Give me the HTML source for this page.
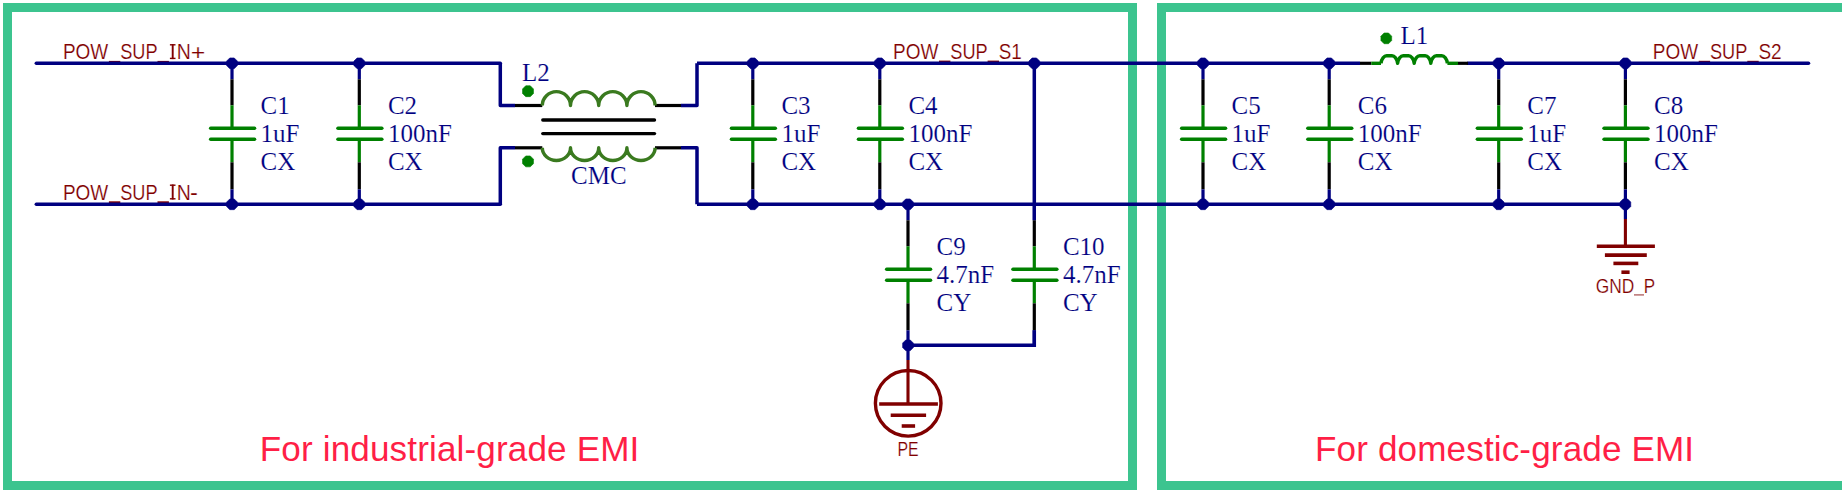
<!DOCTYPE html>
<html><head><meta charset="utf-8"><style>
html,body{margin:0;padding:0;background:#fff;}
svg{display:block;}
</style></head><body>
<svg width="1842" height="492" viewBox="0 0 1842 492">
<rect width="1842" height="492" fill="#fff"/>
<text x="62.98" y="59.10" font-family="Liberation Sans" font-size="22.3" fill="#800000" textLength="45.29" lengthAdjust="spacingAndGlyphs" stroke="#fff" stroke-width="0.2">POW</text>
<rect x="108.90" y="60.90" width="11.40" height="2.70" fill="#800000" opacity="1"/>
<text x="120.18" y="59.10" font-family="Liberation Sans" font-size="22.3" fill="#800000" textLength="37.45" lengthAdjust="spacingAndGlyphs" stroke="#fff" stroke-width="0.2">SUP</text>
<rect x="157.50" y="60.90" width="11.40" height="2.70" fill="#800000" opacity="1"/>
<rect x="171.75" y="44.10" width="1.9" height="15.0" fill="#800000"/>
<rect x="169.90" y="44.10" width="5.6" height="1.4" fill="#800000"/>
<rect x="169.90" y="57.70" width="5.6" height="1.4" fill="#800000"/>
<text x="176.64" y="59.10" font-family="Liberation Sans" font-size="22.3" fill="#800000" textLength="14.06" lengthAdjust="spacingAndGlyphs" stroke="#fff" stroke-width="0.2">N</text>
<text x="190.75" y="59.70" font-family="Liberation Sans" font-size="22.3" fill="#800000" textLength="14.57" lengthAdjust="spacingAndGlyphs" stroke="#fff" stroke-width="0.2">+</text>
<text x="62.98" y="199.50" font-family="Liberation Sans" font-size="22.3" fill="#800000" textLength="45.29" lengthAdjust="spacingAndGlyphs" stroke="#fff" stroke-width="0.2">POW</text>
<rect x="108.90" y="201.30" width="11.40" height="2.70" fill="#800000" opacity="1"/>
<text x="120.18" y="199.50" font-family="Liberation Sans" font-size="22.3" fill="#800000" textLength="37.45" lengthAdjust="spacingAndGlyphs" stroke="#fff" stroke-width="0.2">SUP</text>
<rect x="157.50" y="201.30" width="11.40" height="2.70" fill="#800000" opacity="1"/>
<rect x="171.75" y="184.50" width="1.9" height="15.0" fill="#800000"/>
<rect x="169.90" y="184.50" width="5.6" height="1.4" fill="#800000"/>
<rect x="169.90" y="198.10" width="5.6" height="1.4" fill="#800000"/>
<text x="176.64" y="199.50" font-family="Liberation Sans" font-size="22.3" fill="#800000" textLength="14.06" lengthAdjust="spacingAndGlyphs" stroke="#fff" stroke-width="0.2">N</text>
<text x="190.13" y="199.50" font-family="Liberation Sans" font-size="22.3" fill="#800000" textLength="7.88" lengthAdjust="spacingAndGlyphs" stroke="#fff" stroke-width="0.2">-</text>
<text x="893.08" y="58.80" font-family="Liberation Sans" font-size="22.3" fill="#800000" textLength="45.29" lengthAdjust="spacingAndGlyphs" stroke="#fff" stroke-width="0.2">POW</text>
<rect x="939.00" y="60.60" width="11.40" height="2.70" fill="#800000" opacity="1"/>
<text x="950.28" y="58.80" font-family="Liberation Sans" font-size="22.3" fill="#800000" textLength="37.45" lengthAdjust="spacingAndGlyphs" stroke="#fff" stroke-width="0.2">SUP</text>
<rect x="987.60" y="60.60" width="11.40" height="2.70" fill="#800000" opacity="1"/>
<text x="998.75" y="58.80" font-family="Liberation Sans" font-size="22.3" fill="#800000" textLength="23.05" lengthAdjust="spacingAndGlyphs" stroke="#fff" stroke-width="0.2">S1</text>
<text x="1652.78" y="59.00" font-family="Liberation Sans" font-size="22.3" fill="#800000" textLength="45.29" lengthAdjust="spacingAndGlyphs" stroke="#fff" stroke-width="0.2">POW</text>
<rect x="1698.70" y="60.80" width="11.40" height="2.70" fill="#800000" opacity="1"/>
<text x="1709.98" y="59.00" font-family="Liberation Sans" font-size="22.3" fill="#800000" textLength="37.45" lengthAdjust="spacingAndGlyphs" stroke="#fff" stroke-width="0.2">SUP</text>
<rect x="1747.30" y="60.80" width="11.40" height="2.70" fill="#800000" opacity="1"/>
<text x="1758.44" y="59.00" font-family="Liberation Sans" font-size="22.3" fill="#800000" textLength="23.27" lengthAdjust="spacingAndGlyphs" stroke="#fff" stroke-width="0.2">S2</text>
<text x="1595.83" y="293.00" font-family="Liberation Sans" font-size="19.5" fill="#800000" textLength="38.59" lengthAdjust="spacingAndGlyphs" stroke="#fff" stroke-width="0.2">GND</text>
<rect x="1634.00" y="294.20" width="10.00" height="1.40" fill="#800000" opacity="0.6"/>
<text x="1643.84" y="293.00" font-family="Liberation Sans" font-size="19.5" fill="#800000" textLength="11.35" lengthAdjust="spacingAndGlyphs" stroke="#fff" stroke-width="0.2">P</text>
<text x="897.53" y="455.90" font-family="Liberation Sans" font-size="19.5" fill="#800000" textLength="21.17" lengthAdjust="spacingAndGlyphs" stroke="#fff" stroke-width="0.2">PE</text>
<text x="259.8" y="460.8" font-family="Liberation Sans" font-size="35.1" fill="#ff1f46" textLength="379.5" lengthAdjust="spacing">For industrial-grade EMI</text>
<text x="1315.0" y="460.8" font-family="Liberation Sans" font-size="35.1" fill="#ff1f46" textLength="379.1" lengthAdjust="spacing">For domestic-grade EMI</text>
<rect x="7.5" y="7.5" width="1125" height="478" fill="none" stroke="#3cc48f" stroke-width="9"/>
<rect x="1161.5" y="7.5" width="1675" height="478" fill="none" stroke="#3cc48f" stroke-width="9"/>
<line x1="36.30" y1="63.30" x2="500.30" y2="63.30" stroke="#000080" stroke-width="3.5" stroke-linecap="round"/>
<line x1="36.30" y1="204.30" x2="500.30" y2="204.30" stroke="#000080" stroke-width="3.5" stroke-linecap="round"/>
<polyline points="500.3,63.3 500.3,105.5 515,105.5" fill="none" stroke="#000080" stroke-width="3.5" stroke-linejoin="round"/>
<polyline points="500.3,204.3 500.3,147.8 515,147.8" fill="none" stroke="#000080" stroke-width="3.5" stroke-linejoin="round"/>
<polyline points="697,63.3 697,105.5 681,105.5" fill="none" stroke="#000080" stroke-width="3.5" stroke-linejoin="round"/>
<polyline points="697,204.3 697,147.8 681,147.8" fill="none" stroke="#000080" stroke-width="3.5" stroke-linejoin="round"/>
<line x1="515.00" y1="105.50" x2="542.30" y2="105.50" stroke="#000" stroke-width="3.2" stroke-linecap="butt"/>
<line x1="515.00" y1="147.80" x2="542.30" y2="147.80" stroke="#000" stroke-width="3.2" stroke-linecap="butt"/>
<line x1="655.00" y1="105.50" x2="681.00" y2="105.50" stroke="#000" stroke-width="3.2" stroke-linecap="butt"/>
<line x1="655.00" y1="147.80" x2="681.00" y2="147.80" stroke="#000" stroke-width="3.2" stroke-linecap="butt"/>
<line x1="697.00" y1="63.30" x2="1360.00" y2="63.30" stroke="#000080" stroke-width="3.5" stroke-linecap="butt"/>
<line x1="1468.00" y1="63.30" x2="1808.50" y2="63.30" stroke="#000080" stroke-width="3.5" stroke-linecap="round"/>
<line x1="697.00" y1="204.30" x2="1625.40" y2="204.30" stroke="#000080" stroke-width="3.5" stroke-linecap="butt"/>
<line x1="1034.30" y1="63.30" x2="1034.30" y2="204.30" stroke="#000080" stroke-width="3.5" stroke-linecap="butt"/>
<polyline points="908,345.3 1034.3,345.3 1034.3,330.3" fill="none" stroke="#000080" stroke-width="3.5"/>
<line x1="1034.30" y1="204.30" x2="1034.30" y2="220.30" stroke="#000080" stroke-width="3.2" stroke-linecap="butt"/>
<line x1="908.00" y1="345.30" x2="908.00" y2="360.00" stroke="#000080" stroke-width="3.2" stroke-linecap="butt"/>
<line x1="1625.40" y1="204.30" x2="1625.40" y2="219.00" stroke="#000080" stroke-width="3.2" stroke-linecap="butt"/>
<line x1="232.00" y1="63.30" x2="232.00" y2="79.30" stroke="#000080" stroke-width="3.2" stroke-linecap="butt"/>
<line x1="232.00" y1="79.30" x2="232.00" y2="105.30" stroke="#000" stroke-width="3.2" stroke-linecap="butt"/>
<line x1="232.00" y1="105.30" x2="232.00" y2="128.30" stroke="#008000" stroke-width="3.2" stroke-linecap="butt"/>
<line x1="232.00" y1="139.30" x2="232.00" y2="162.30" stroke="#008000" stroke-width="3.2" stroke-linecap="butt"/>
<line x1="232.00" y1="162.30" x2="232.00" y2="189.30" stroke="#000" stroke-width="3.2" stroke-linecap="butt"/>
<line x1="232.00" y1="189.30" x2="232.00" y2="204.30" stroke="#000080" stroke-width="3.2" stroke-linecap="butt"/>
<line x1="210.70" y1="128.30" x2="254.50" y2="128.30" stroke="#008000" stroke-width="3.6" stroke-linecap="round"/>
<line x1="210.70" y1="139.30" x2="254.50" y2="139.30" stroke="#008000" stroke-width="3.6" stroke-linecap="round"/>
<text x="260.60" y="114.00" font-family="Liberation Serif" font-size="25" fill="#000080" stroke="#fff" stroke-width="0.15">C1</text>
<text x="260.60" y="141.50" font-family="Liberation Serif" font-size="25" fill="#000080" stroke="#fff" stroke-width="0.15">1uF</text>
<text x="260.60" y="170.00" font-family="Liberation Serif" font-size="25" fill="#000080" stroke="#fff" stroke-width="0.15">CX</text>
<line x1="359.30" y1="63.30" x2="359.30" y2="79.30" stroke="#000080" stroke-width="3.2" stroke-linecap="butt"/>
<line x1="359.30" y1="79.30" x2="359.30" y2="105.30" stroke="#000" stroke-width="3.2" stroke-linecap="butt"/>
<line x1="359.30" y1="105.30" x2="359.30" y2="128.30" stroke="#008000" stroke-width="3.2" stroke-linecap="butt"/>
<line x1="359.30" y1="139.30" x2="359.30" y2="162.30" stroke="#008000" stroke-width="3.2" stroke-linecap="butt"/>
<line x1="359.30" y1="162.30" x2="359.30" y2="189.30" stroke="#000" stroke-width="3.2" stroke-linecap="butt"/>
<line x1="359.30" y1="189.30" x2="359.30" y2="204.30" stroke="#000080" stroke-width="3.2" stroke-linecap="butt"/>
<line x1="338.00" y1="128.30" x2="381.80" y2="128.30" stroke="#008000" stroke-width="3.6" stroke-linecap="round"/>
<line x1="338.00" y1="139.30" x2="381.80" y2="139.30" stroke="#008000" stroke-width="3.6" stroke-linecap="round"/>
<text x="387.90" y="114.00" font-family="Liberation Serif" font-size="25" fill="#000080" stroke="#fff" stroke-width="0.15">C2</text>
<text x="387.90" y="141.50" font-family="Liberation Serif" font-size="25" fill="#000080" stroke="#fff" stroke-width="0.15">100nF</text>
<text x="387.90" y="170.00" font-family="Liberation Serif" font-size="25" fill="#000080" stroke="#fff" stroke-width="0.15">CX</text>
<line x1="752.80" y1="63.30" x2="752.80" y2="79.30" stroke="#000080" stroke-width="3.2" stroke-linecap="butt"/>
<line x1="752.80" y1="79.30" x2="752.80" y2="105.30" stroke="#000" stroke-width="3.2" stroke-linecap="butt"/>
<line x1="752.80" y1="105.30" x2="752.80" y2="128.30" stroke="#008000" stroke-width="3.2" stroke-linecap="butt"/>
<line x1="752.80" y1="139.30" x2="752.80" y2="162.30" stroke="#008000" stroke-width="3.2" stroke-linecap="butt"/>
<line x1="752.80" y1="162.30" x2="752.80" y2="189.30" stroke="#000" stroke-width="3.2" stroke-linecap="butt"/>
<line x1="752.80" y1="189.30" x2="752.80" y2="204.30" stroke="#000080" stroke-width="3.2" stroke-linecap="butt"/>
<line x1="731.50" y1="128.30" x2="775.30" y2="128.30" stroke="#008000" stroke-width="3.6" stroke-linecap="round"/>
<line x1="731.50" y1="139.30" x2="775.30" y2="139.30" stroke="#008000" stroke-width="3.6" stroke-linecap="round"/>
<text x="781.40" y="114.00" font-family="Liberation Serif" font-size="25" fill="#000080" stroke="#fff" stroke-width="0.15">C3</text>
<text x="781.40" y="141.50" font-family="Liberation Serif" font-size="25" fill="#000080" stroke="#fff" stroke-width="0.15">1uF</text>
<text x="781.40" y="170.00" font-family="Liberation Serif" font-size="25" fill="#000080" stroke="#fff" stroke-width="0.15">CX</text>
<line x1="879.80" y1="63.30" x2="879.80" y2="79.30" stroke="#000080" stroke-width="3.2" stroke-linecap="butt"/>
<line x1="879.80" y1="79.30" x2="879.80" y2="105.30" stroke="#000" stroke-width="3.2" stroke-linecap="butt"/>
<line x1="879.80" y1="105.30" x2="879.80" y2="128.30" stroke="#008000" stroke-width="3.2" stroke-linecap="butt"/>
<line x1="879.80" y1="139.30" x2="879.80" y2="162.30" stroke="#008000" stroke-width="3.2" stroke-linecap="butt"/>
<line x1="879.80" y1="162.30" x2="879.80" y2="189.30" stroke="#000" stroke-width="3.2" stroke-linecap="butt"/>
<line x1="879.80" y1="189.30" x2="879.80" y2="204.30" stroke="#000080" stroke-width="3.2" stroke-linecap="butt"/>
<line x1="858.50" y1="128.30" x2="902.30" y2="128.30" stroke="#008000" stroke-width="3.6" stroke-linecap="round"/>
<line x1="858.50" y1="139.30" x2="902.30" y2="139.30" stroke="#008000" stroke-width="3.6" stroke-linecap="round"/>
<text x="908.40" y="114.00" font-family="Liberation Serif" font-size="25" fill="#000080" stroke="#fff" stroke-width="0.15">C4</text>
<text x="908.40" y="141.50" font-family="Liberation Serif" font-size="25" fill="#000080" stroke="#fff" stroke-width="0.15">100nF</text>
<text x="908.40" y="170.00" font-family="Liberation Serif" font-size="25" fill="#000080" stroke="#fff" stroke-width="0.15">CX</text>
<line x1="1203.00" y1="63.30" x2="1203.00" y2="79.30" stroke="#000080" stroke-width="3.2" stroke-linecap="butt"/>
<line x1="1203.00" y1="79.30" x2="1203.00" y2="105.30" stroke="#000" stroke-width="3.2" stroke-linecap="butt"/>
<line x1="1203.00" y1="105.30" x2="1203.00" y2="128.30" stroke="#008000" stroke-width="3.2" stroke-linecap="butt"/>
<line x1="1203.00" y1="139.30" x2="1203.00" y2="162.30" stroke="#008000" stroke-width="3.2" stroke-linecap="butt"/>
<line x1="1203.00" y1="162.30" x2="1203.00" y2="189.30" stroke="#000" stroke-width="3.2" stroke-linecap="butt"/>
<line x1="1203.00" y1="189.30" x2="1203.00" y2="204.30" stroke="#000080" stroke-width="3.2" stroke-linecap="butt"/>
<line x1="1181.70" y1="128.30" x2="1225.50" y2="128.30" stroke="#008000" stroke-width="3.6" stroke-linecap="round"/>
<line x1="1181.70" y1="139.30" x2="1225.50" y2="139.30" stroke="#008000" stroke-width="3.6" stroke-linecap="round"/>
<text x="1231.60" y="114.00" font-family="Liberation Serif" font-size="25" fill="#000080" stroke="#fff" stroke-width="0.15">C5</text>
<text x="1231.60" y="141.50" font-family="Liberation Serif" font-size="25" fill="#000080" stroke="#fff" stroke-width="0.15">1uF</text>
<text x="1231.60" y="170.00" font-family="Liberation Serif" font-size="25" fill="#000080" stroke="#fff" stroke-width="0.15">CX</text>
<line x1="1329.20" y1="63.30" x2="1329.20" y2="79.30" stroke="#000080" stroke-width="3.2" stroke-linecap="butt"/>
<line x1="1329.20" y1="79.30" x2="1329.20" y2="105.30" stroke="#000" stroke-width="3.2" stroke-linecap="butt"/>
<line x1="1329.20" y1="105.30" x2="1329.20" y2="128.30" stroke="#008000" stroke-width="3.2" stroke-linecap="butt"/>
<line x1="1329.20" y1="139.30" x2="1329.20" y2="162.30" stroke="#008000" stroke-width="3.2" stroke-linecap="butt"/>
<line x1="1329.20" y1="162.30" x2="1329.20" y2="189.30" stroke="#000" stroke-width="3.2" stroke-linecap="butt"/>
<line x1="1329.20" y1="189.30" x2="1329.20" y2="204.30" stroke="#000080" stroke-width="3.2" stroke-linecap="butt"/>
<line x1="1307.90" y1="128.30" x2="1351.70" y2="128.30" stroke="#008000" stroke-width="3.6" stroke-linecap="round"/>
<line x1="1307.90" y1="139.30" x2="1351.70" y2="139.30" stroke="#008000" stroke-width="3.6" stroke-linecap="round"/>
<text x="1357.80" y="114.00" font-family="Liberation Serif" font-size="25" fill="#000080" stroke="#fff" stroke-width="0.15">C6</text>
<text x="1357.80" y="141.50" font-family="Liberation Serif" font-size="25" fill="#000080" stroke="#fff" stroke-width="0.15">100nF</text>
<text x="1357.80" y="170.00" font-family="Liberation Serif" font-size="25" fill="#000080" stroke="#fff" stroke-width="0.15">CX</text>
<line x1="1498.70" y1="63.30" x2="1498.70" y2="79.30" stroke="#000080" stroke-width="3.2" stroke-linecap="butt"/>
<line x1="1498.70" y1="79.30" x2="1498.70" y2="105.30" stroke="#000" stroke-width="3.2" stroke-linecap="butt"/>
<line x1="1498.70" y1="105.30" x2="1498.70" y2="128.30" stroke="#008000" stroke-width="3.2" stroke-linecap="butt"/>
<line x1="1498.70" y1="139.30" x2="1498.70" y2="162.30" stroke="#008000" stroke-width="3.2" stroke-linecap="butt"/>
<line x1="1498.70" y1="162.30" x2="1498.70" y2="189.30" stroke="#000" stroke-width="3.2" stroke-linecap="butt"/>
<line x1="1498.70" y1="189.30" x2="1498.70" y2="204.30" stroke="#000080" stroke-width="3.2" stroke-linecap="butt"/>
<line x1="1477.40" y1="128.30" x2="1521.20" y2="128.30" stroke="#008000" stroke-width="3.6" stroke-linecap="round"/>
<line x1="1477.40" y1="139.30" x2="1521.20" y2="139.30" stroke="#008000" stroke-width="3.6" stroke-linecap="round"/>
<text x="1527.30" y="114.00" font-family="Liberation Serif" font-size="25" fill="#000080" stroke="#fff" stroke-width="0.15">C7</text>
<text x="1527.30" y="141.50" font-family="Liberation Serif" font-size="25" fill="#000080" stroke="#fff" stroke-width="0.15">1uF</text>
<text x="1527.30" y="170.00" font-family="Liberation Serif" font-size="25" fill="#000080" stroke="#fff" stroke-width="0.15">CX</text>
<line x1="1625.40" y1="63.30" x2="1625.40" y2="79.30" stroke="#000080" stroke-width="3.2" stroke-linecap="butt"/>
<line x1="1625.40" y1="79.30" x2="1625.40" y2="105.30" stroke="#000" stroke-width="3.2" stroke-linecap="butt"/>
<line x1="1625.40" y1="105.30" x2="1625.40" y2="128.30" stroke="#008000" stroke-width="3.2" stroke-linecap="butt"/>
<line x1="1625.40" y1="139.30" x2="1625.40" y2="162.30" stroke="#008000" stroke-width="3.2" stroke-linecap="butt"/>
<line x1="1625.40" y1="162.30" x2="1625.40" y2="189.30" stroke="#000" stroke-width="3.2" stroke-linecap="butt"/>
<line x1="1625.40" y1="189.30" x2="1625.40" y2="204.30" stroke="#000080" stroke-width="3.2" stroke-linecap="butt"/>
<line x1="1604.10" y1="128.30" x2="1647.90" y2="128.30" stroke="#008000" stroke-width="3.6" stroke-linecap="round"/>
<line x1="1604.10" y1="139.30" x2="1647.90" y2="139.30" stroke="#008000" stroke-width="3.6" stroke-linecap="round"/>
<text x="1654.00" y="114.00" font-family="Liberation Serif" font-size="25" fill="#000080" stroke="#fff" stroke-width="0.15">C8</text>
<text x="1654.00" y="141.50" font-family="Liberation Serif" font-size="25" fill="#000080" stroke="#fff" stroke-width="0.15">100nF</text>
<text x="1654.00" y="170.00" font-family="Liberation Serif" font-size="25" fill="#000080" stroke="#fff" stroke-width="0.15">CX</text>
<line x1="908.00" y1="204.30" x2="908.00" y2="220.30" stroke="#000080" stroke-width="3.2" stroke-linecap="butt"/>
<line x1="908.00" y1="220.30" x2="908.00" y2="246.30" stroke="#000" stroke-width="3.2" stroke-linecap="butt"/>
<line x1="908.00" y1="246.30" x2="908.00" y2="269.30" stroke="#008000" stroke-width="3.2" stroke-linecap="butt"/>
<line x1="908.00" y1="280.30" x2="908.00" y2="303.30" stroke="#008000" stroke-width="3.2" stroke-linecap="butt"/>
<line x1="908.00" y1="303.30" x2="908.00" y2="330.30" stroke="#000" stroke-width="3.2" stroke-linecap="butt"/>
<line x1="908.00" y1="330.30" x2="908.00" y2="345.30" stroke="#000080" stroke-width="3.2" stroke-linecap="butt"/>
<line x1="886.70" y1="269.30" x2="930.50" y2="269.30" stroke="#008000" stroke-width="3.6" stroke-linecap="round"/>
<line x1="886.70" y1="280.30" x2="930.50" y2="280.30" stroke="#008000" stroke-width="3.6" stroke-linecap="round"/>
<text x="936.60" y="255.00" font-family="Liberation Serif" font-size="25" fill="#000080" stroke="#fff" stroke-width="0.15">C9</text>
<text x="936.60" y="282.50" font-family="Liberation Serif" font-size="25" fill="#000080" stroke="#fff" stroke-width="0.15">4.7nF</text>
<text x="936.60" y="311.00" font-family="Liberation Serif" font-size="25" fill="#000080" stroke="#fff" stroke-width="0.15">CY</text>
<line x1="1034.30" y1="204.30" x2="1034.30" y2="220.30" stroke="#000080" stroke-width="3.2" stroke-linecap="butt"/>
<line x1="1034.30" y1="220.30" x2="1034.30" y2="246.30" stroke="#000" stroke-width="3.2" stroke-linecap="butt"/>
<line x1="1034.30" y1="246.30" x2="1034.30" y2="269.30" stroke="#008000" stroke-width="3.2" stroke-linecap="butt"/>
<line x1="1034.30" y1="280.30" x2="1034.30" y2="303.30" stroke="#008000" stroke-width="3.2" stroke-linecap="butt"/>
<line x1="1034.30" y1="303.30" x2="1034.30" y2="330.30" stroke="#000" stroke-width="3.2" stroke-linecap="butt"/>
<line x1="1034.30" y1="330.30" x2="1034.30" y2="345.30" stroke="#000080" stroke-width="3.2" stroke-linecap="butt"/>
<line x1="1013.00" y1="269.30" x2="1056.80" y2="269.30" stroke="#008000" stroke-width="3.6" stroke-linecap="round"/>
<line x1="1013.00" y1="280.30" x2="1056.80" y2="280.30" stroke="#008000" stroke-width="3.6" stroke-linecap="round"/>
<text x="1062.90" y="255.00" font-family="Liberation Serif" font-size="25" fill="#000080" stroke="#fff" stroke-width="0.15">C10</text>
<text x="1062.90" y="282.50" font-family="Liberation Serif" font-size="25" fill="#000080" stroke="#fff" stroke-width="0.15">4.7nF</text>
<text x="1062.90" y="311.00" font-family="Liberation Serif" font-size="25" fill="#000080" stroke="#fff" stroke-width="0.15">CY</text>
<path d="M542.3,105.5 a14.1,13.9 0 0 1 28.2,0 a14.1,13.9 0 0 1 28.2,0 a14.1,13.9 0 0 1 28.2,0 a14.1,13.9 0 0 1 28.2,0" fill="none" stroke="#3a7a1f" stroke-width="3.4" stroke-linejoin="round"/>
<path d="M542.3,147.8 a14.1,12.7 0 0 0 28.2,0 a14.1,12.7 0 0 0 28.2,0 a14.1,12.7 0 0 0 28.2,0 a14.1,12.7 0 0 0 28.2,0" fill="none" stroke="#3a7a1f" stroke-width="3.4" stroke-linejoin="round"/>
<line x1="542.80" y1="120.00" x2="654.50" y2="120.00" stroke="#000" stroke-width="3.4" stroke-linecap="round"/>
<line x1="542.80" y1="133.60" x2="654.50" y2="133.60" stroke="#000" stroke-width="3.4" stroke-linecap="round"/>
<polygon points="533.45,93.46 530.26,96.65 525.74,96.65 522.55,93.46 522.55,88.94 525.74,85.75 530.26,85.75 533.45,88.94" fill="#008000" stroke="#008000" stroke-width="0.6" stroke-linejoin="round"/>
<polygon points="533.45,163.66 530.26,166.85 525.74,166.85 522.55,163.66 522.55,159.14 525.74,155.95 530.26,155.95 533.45,159.14" fill="#008000" stroke="#008000" stroke-width="0.6" stroke-linejoin="round"/>
<text x="522.10" y="80.60" font-family="Liberation Serif" font-size="25" fill="#000080" stroke="#fff" stroke-width="0.15">L2</text>
<text x="571.00" y="183.70" font-family="Liberation Serif" font-size="25" fill="#000080" stroke="#fff" stroke-width="0.15">CMC</text>
<line x1="1360.00" y1="63.30" x2="1371.30" y2="63.30" stroke="#000" stroke-width="3.2" stroke-linecap="butt"/>
<line x1="1371.30" y1="63.30" x2="1381.00" y2="63.30" stroke="#008000" stroke-width="3.4" stroke-linecap="butt"/>
<line x1="1447.40" y1="63.30" x2="1458.00" y2="63.30" stroke="#008000" stroke-width="3.4" stroke-linecap="butt"/>
<line x1="1458.00" y1="63.30" x2="1468.00" y2="63.30" stroke="#000" stroke-width="3.2" stroke-linecap="butt"/>
<path d="M1381,63.3 c0.4,-4.5 3.2,-7.5 5.6,-7.5 l5.40,0 c2.4,0 5.2,3 5.6,7.5 c0.4,-4.5 3.2,-7.5 5.6,-7.5 l5.40,0 c2.4,0 5.2,3 5.6,7.5 c0.4,-4.5 3.2,-7.5 5.6,-7.5 l5.40,0 c2.4,0 5.2,3 5.6,7.5 c0.4,-4.5 3.2,-7.5 5.6,-7.5 l5.40,0 c2.4,0 5.2,3 5.6,7.5" fill="none" stroke="#008000" stroke-width="3.4" stroke-linejoin="round"/>
<polygon points="1391.66,40.57 1388.52,43.71 1384.08,43.71 1380.94,40.57 1380.94,36.13 1384.08,32.99 1388.52,32.99 1391.66,36.13" fill="#008000" stroke="#008000" stroke-width="0.6" stroke-linejoin="round"/>
<text x="1400.50" y="43.80" font-family="Liberation Serif" font-size="25" fill="#000080" stroke="#fff" stroke-width="0.15">L1</text>
<polygon points="237.36,65.52 234.22,68.66 229.78,68.66 226.64,65.52 226.64,61.08 229.78,57.94 234.22,57.94 237.36,61.08" fill="#000080" stroke="#000080" stroke-width="0.6" stroke-linejoin="round"/>
<polygon points="364.66,65.52 361.52,68.66 357.08,68.66 353.94,65.52 353.94,61.08 357.08,57.94 361.52,57.94 364.66,61.08" fill="#000080" stroke="#000080" stroke-width="0.6" stroke-linejoin="round"/>
<polygon points="758.16,65.52 755.02,68.66 750.58,68.66 747.44,65.52 747.44,61.08 750.58,57.94 755.02,57.94 758.16,61.08" fill="#000080" stroke="#000080" stroke-width="0.6" stroke-linejoin="round"/>
<polygon points="885.16,65.52 882.02,68.66 877.58,68.66 874.44,65.52 874.44,61.08 877.58,57.94 882.02,57.94 885.16,61.08" fill="#000080" stroke="#000080" stroke-width="0.6" stroke-linejoin="round"/>
<polygon points="1039.66,65.52 1036.52,68.66 1032.08,68.66 1028.94,65.52 1028.94,61.08 1032.08,57.94 1036.52,57.94 1039.66,61.08" fill="#000080" stroke="#000080" stroke-width="0.6" stroke-linejoin="round"/>
<polygon points="1208.36,65.52 1205.22,68.66 1200.78,68.66 1197.64,65.52 1197.64,61.08 1200.78,57.94 1205.22,57.94 1208.36,61.08" fill="#000080" stroke="#000080" stroke-width="0.6" stroke-linejoin="round"/>
<polygon points="1334.56,65.52 1331.42,68.66 1326.98,68.66 1323.84,65.52 1323.84,61.08 1326.98,57.94 1331.42,57.94 1334.56,61.08" fill="#000080" stroke="#000080" stroke-width="0.6" stroke-linejoin="round"/>
<polygon points="1504.06,65.52 1500.92,68.66 1496.48,68.66 1493.34,65.52 1493.34,61.08 1496.48,57.94 1500.92,57.94 1504.06,61.08" fill="#000080" stroke="#000080" stroke-width="0.6" stroke-linejoin="round"/>
<polygon points="1630.76,65.52 1627.62,68.66 1623.18,68.66 1620.04,65.52 1620.04,61.08 1623.18,57.94 1627.62,57.94 1630.76,61.08" fill="#000080" stroke="#000080" stroke-width="0.6" stroke-linejoin="round"/>
<polygon points="237.36,206.52 234.22,209.66 229.78,209.66 226.64,206.52 226.64,202.08 229.78,198.94 234.22,198.94 237.36,202.08" fill="#000080" stroke="#000080" stroke-width="0.6" stroke-linejoin="round"/>
<polygon points="364.66,206.52 361.52,209.66 357.08,209.66 353.94,206.52 353.94,202.08 357.08,198.94 361.52,198.94 364.66,202.08" fill="#000080" stroke="#000080" stroke-width="0.6" stroke-linejoin="round"/>
<polygon points="758.16,206.52 755.02,209.66 750.58,209.66 747.44,206.52 747.44,202.08 750.58,198.94 755.02,198.94 758.16,202.08" fill="#000080" stroke="#000080" stroke-width="0.6" stroke-linejoin="round"/>
<polygon points="885.16,206.52 882.02,209.66 877.58,209.66 874.44,206.52 874.44,202.08 877.58,198.94 882.02,198.94 885.16,202.08" fill="#000080" stroke="#000080" stroke-width="0.6" stroke-linejoin="round"/>
<polygon points="913.36,206.52 910.22,209.66 905.78,209.66 902.64,206.52 902.64,202.08 905.78,198.94 910.22,198.94 913.36,202.08" fill="#000080" stroke="#000080" stroke-width="0.6" stroke-linejoin="round"/>
<polygon points="1208.36,206.52 1205.22,209.66 1200.78,209.66 1197.64,206.52 1197.64,202.08 1200.78,198.94 1205.22,198.94 1208.36,202.08" fill="#000080" stroke="#000080" stroke-width="0.6" stroke-linejoin="round"/>
<polygon points="1334.56,206.52 1331.42,209.66 1326.98,209.66 1323.84,206.52 1323.84,202.08 1326.98,198.94 1331.42,198.94 1334.56,202.08" fill="#000080" stroke="#000080" stroke-width="0.6" stroke-linejoin="round"/>
<polygon points="1504.06,206.52 1500.92,209.66 1496.48,209.66 1493.34,206.52 1493.34,202.08 1496.48,198.94 1500.92,198.94 1504.06,202.08" fill="#000080" stroke="#000080" stroke-width="0.6" stroke-linejoin="round"/>
<polygon points="1630.76,206.52 1627.62,209.66 1623.18,209.66 1620.04,206.52 1620.04,202.08 1623.18,198.94 1627.62,198.94 1630.76,202.08" fill="#000080" stroke="#000080" stroke-width="0.6" stroke-linejoin="round"/>
<polygon points="913.36,347.52 910.22,350.66 905.78,350.66 902.64,347.52 902.64,343.08 905.78,339.94 910.22,339.94 913.36,343.08" fill="#000080" stroke="#000080" stroke-width="0.6" stroke-linejoin="round"/>
<line x1="1625.40" y1="219.00" x2="1625.40" y2="246.30" stroke="#800000" stroke-width="3.1" stroke-linecap="butt"/>
<line x1="1596.80" y1="246.30" x2="1654.90" y2="246.30" stroke="#800000" stroke-width="3.6" stroke-linecap="butt"/>
<line x1="1604.90" y1="255.10" x2="1646.80" y2="255.10" stroke="#800000" stroke-width="3.6" stroke-linecap="butt"/>
<line x1="1613.40" y1="263.40" x2="1638.30" y2="263.40" stroke="#800000" stroke-width="3.6" stroke-linecap="butt"/>
<line x1="1621.40" y1="272.20" x2="1629.60" y2="272.20" stroke="#800000" stroke-width="3.6" stroke-linecap="butt"/>
<line x1="908.00" y1="360.00" x2="908.00" y2="404.00" stroke="#800000" stroke-width="3.1" stroke-linecap="butt"/>
<circle cx="908.2" cy="403.3" r="32.8" fill="none" stroke="#800000" stroke-width="3.4"/>
<line x1="879.20" y1="404.00" x2="937.90" y2="404.00" stroke="#800000" stroke-width="3.6" stroke-linecap="butt"/>
<line x1="890.70" y1="415.30" x2="926.10" y2="415.30" stroke="#800000" stroke-width="3.6" stroke-linecap="butt"/>
<line x1="901.70" y1="426.00" x2="915.10" y2="426.00" stroke="#800000" stroke-width="3.6" stroke-linecap="butt"/>
</svg>
</body></html>
